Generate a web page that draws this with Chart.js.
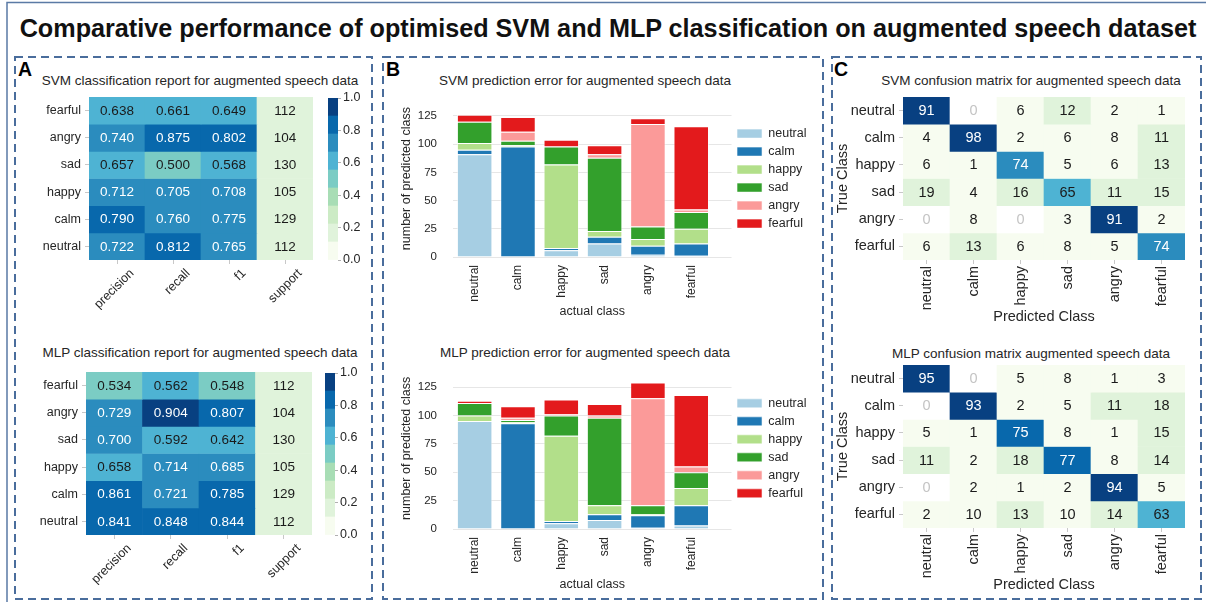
<!DOCTYPE html>
<html>
<head>
<meta charset="utf-8">
<script src="https://cdn.jsdelivr.net/npm/chart.js@4.4.1/dist/chart.umd.min.js"></script>
<style>
  html, body { margin: 0; padding: 0; background: #fff; }
  #figure { position: relative; width: 1206px; height: 602px; overflow: hidden;
            font-family: 'Liberation Sans', Arial, sans-serif; color: #262626; }
  #figure canvas { position: absolute; }
  .txt { position: absolute; white-space: nowrap; line-height: 1; }
  .main { left: 0; width: 1216px; top: 15.6px; text-align: center; font-weight: bold; font-size: 25.2px; color: #111; }
  .sub { width: 400px; text-align: center; font-size: 13.5px; }
  .letter { font-weight: bold; font-size: 19.5px; color: #000; top: 60px; }
  #frames { position: absolute; left: 0; top: 0; pointer-events: none; }
</style>
</head>
<body>
<div id="figure">
  <div class="txt main">Comparative performance of optimised SVM and MLP classification on augmented speech dataset</div>
  <div class="txt letter" style="left:18px">A</div>
  <div class="txt letter" style="left:386px">B</div>
  <div class="txt letter" style="left:834px">C</div>
  <div class="txt sub" style="left:0px;top:73.5px">SVM classification report for augmented speech data</div>
  <div class="txt sub" style="left:0px;top:345.5px">MLP classification report for augmented speech data</div>
  <div class="txt sub" style="left:385px;top:73.5px">SVM prediction error for augmented speech data</div>
  <div class="txt sub" style="left:385px;top:345.5px">MLP prediction error for augmented speech data</div>
  <div class="txt sub" style="left:831px;top:73.5px">SVM confusion matrix for augmented speech data</div>
  <div class="txt sub" style="left:831px;top:346.5px">MLP confusion matrix augmented speech data</div>
  <svg id="frames" width="1206" height="602">
    <rect x="7" y="2.5" width="1215" height="620" fill="none" stroke="#5a7aa5" stroke-width="1.5"/>
    <g fill="none" stroke="#4a6d9c" stroke-width="2" stroke-dasharray="8 5">
      <rect x="15" y="57" width="357" height="542"/>
      <rect x="383" y="57" width="440" height="542"/>
      <rect x="832" y="57" width="369" height="542"/>
    </g>
  </svg>
</div>
<script>
// class names, in the order the models use them
const classes = ['neutral', 'calm', 'happy', 'sad', 'angry', 'fearful'];

// classification report (rows top to bottom as drawn)
const metrics = ['precision', 'recall', 'f1', 'support'];
const reportRows = ['fearful', 'angry', 'sad', 'happy', 'calm', 'neutral'];
const svmPrecision = [0.638, 0.740, 0.657, 0.712, 0.790, 0.722];
const svmRecall = [0.661, 0.875, 0.500, 0.705, 0.760, 0.812];
const svmF1 = [0.649, 0.802, 0.568, 0.708, 0.775, 0.765];
const mlpPrecision = [0.534, 0.729, 0.700, 0.658, 0.861, 0.841];
const mlpRecall = [0.562, 0.904, 0.592, 0.714, 0.721, 0.848];
const mlpF1 = [0.548, 0.807, 0.642, 0.685, 0.785, 0.844];
const support = [112, 104, 130, 105, 129, 112];

// confusion matrices: rows = true class, columns = predicted class
const svmConfusion = [
    [91, 0, 6, 12, 2, 1],
    [4, 98, 2, 6, 8, 11],
    [6, 1, 74, 5, 6, 13],
    [19, 4, 16, 65, 11, 15],
    [0, 8, 0, 3, 91, 2],
    [6, 13, 6, 8, 5, 74]
];
const mlpConfusion = [
    [95, 0, 5, 8, 1, 3],
    [0, 93, 2, 5, 11, 18],
    [5, 1, 75, 8, 1, 15],
    [11, 2, 18, 77, 8, 14],
    [0, 2, 1, 2, 94, 5],
    [2, 10, 13, 10, 14, 63]
];

// axis ticks
const countTicks = [0, 25, 50, 75, 100, 125];
const svmCountMax = 139;
const mlpCountMax = 142;
const colourbarTicks = [0, 0.2, 0.4, 0.6, 0.8, 1.0];

const gnbu = ['#f7fcf0', '#e0f3db', '#ccebc5', '#a8ddb5', '#7bccc4', '#4eb3d3', '#2b8cbe', '#0868ac', '#084081'];
const paired = ['#a6cee3', '#1f78b4', '#b2df8a', '#33a02c', '#fb9a99', '#e31a1c'];

Chart.defaults.font.family = "'Liberation Sans', Arial, sans-serif";
Chart.defaults.color = '#262626';
Chart.defaults.animation = false;
Chart.defaults.responsive = false;
Chart.defaults.devicePixelRatio = 1;
Chart.defaults.plugins.legend.display = false;
Chart.defaults.plugins.tooltip.enabled = false;

function level(share) {
    return Math.min(gnbu.length - 1, Math.floor(share * gnbu.length));
}

function cellColour(share) {
    if (share === undefined) return gnbu[0];
    if (share === 0) return '#ffffff';
    return gnbu[level(share)];
}

function textColour(share) {
    if (share === 0) return '#c4c4c4';
    return level(share) >= 6 ? '#ffffff' : '#1a1a1a';
}

// fixed axis sizes, no extra room for overhanging labels
function fixWidth(w) {
    return s => { s.width = w; s.paddingTop = 0; s.paddingBottom = 0; };
}
function fixHeight(h) {
    return s => { s.height = h; s.paddingLeft = 0; s.paddingRight = 0; };
}

// writes each cell's value in the middle of its bar
const cellText = {
    id: 'cellText',
    afterDatasetsDraw(chart, args, opts) {
        const ctx = chart.ctx;
        ctx.save();
        ctx.font = opts.size + "px 'Liberation Sans', Arial, sans-serif";
        ctx.textAlign = 'center';
        ctx.textBaseline = 'middle';
        chart.data.datasets.forEach((ds, di) => {
            chart.getDatasetMeta(di).data.forEach((bar, j) => {
                ctx.fillStyle = textColour(ds.shades[j]);
                ctx.fillText(ds.texts[j], bar.x, (bar.y + bar.base) / 2 + 0.5);
            });
        });
        ctx.restore();
    }
};

function addCanvas(left, top, w, h) {
    let c = document.createElement('canvas');
    c.width = w;
    c.height = h;
    c.style.left = left + 'px';
    c.style.top = top + 'px';
    c.style.width = w + 'px';
    c.style.height = h + 'px';
    document.getElementById('figure').insertBefore(c, document.getElementById('frames'));
    return c;
}

function heatmap(canvas, cfg) {
    return new Chart(canvas, {
        type: 'bar',
        data: {
            labels: cfg.cols,
            datasets: cfg.rows.map((row, i) => ({
                label: row,
                data: cfg.cols.map(() => [i, i + 1]),
                shades: cfg.shades[i],
                texts: cfg.texts[i],
                backgroundColor: c => cellColour(c.dataIndex === undefined ? undefined : c.dataset.shades[c.dataIndex]),
                borderWidth: 0,
                barPercentage: 1,
                categoryPercentage: 1
            }))
        },
        options: {
            layout: { padding: cfg.padding },
            plugins: { cellText: { size: cfg.cellFont } },
            scales: {
                x: {
                    stacked: true,
                    grid: { drawOnChartArea: false, offset: false, tickLength: 4, color: '#c8c8c8' },
                    border: { display: false },
                    ticks: { autoSkip: false, minRotation: cfg.rotation, maxRotation: cfg.rotation,
                             labelOffset: cfg.labelOffset, padding: 2, font: { size: cfg.tickFont } },
                    title: { display: !!cfg.xTitle, text: cfg.xTitle, font: { size: 14.5 }, padding: { top: 4, bottom: 4 } },
                    afterFit: fixHeight(cfg.xHeight)
                },
                y: {
                    stacked: false,
                    bounds: 'data',
                    min: 0,
                    max: cfg.rows.length,
                    reverse: true,
                    afterBuildTicks: s => { s.ticks = cfg.rows.map((r, i) => ({ value: i + 0.5 })); },
                    grid: { drawOnChartArea: false, tickLength: 4, color: '#c8c8c8' },
                    border: { display: false },
                    ticks: { autoSkip: false, padding: 4, font: { size: cfg.tickFont },
                             callback: v => cfg.rows[Math.floor(v)] },
                    title: { display: !!cfg.yTitle, text: cfg.yTitle, font: { size: 14.5 }, padding: { top: 0, bottom: 0 } },
                    afterFit: fixWidth(cfg.yWidth)
                }
            }
        },
        plugins: [cellText]
    });
}

function colourbar(canvas) {
    return new Chart(canvas, {
        type: 'bar',
        data: {
            labels: [''],
            datasets: gnbu.map((colour, k) => ({
                data: [[k / gnbu.length, (k + 1) / gnbu.length]],
                backgroundColor: colour,
                borderWidth: 0,
                barPercentage: 1,
                categoryPercentage: 1
            }))
        },
        options: {
            layout: { padding: { left: 6, top: 8, right: 0, bottom: 10 } },
            scales: {
                x: { stacked: true, display: false },
                y: {
                    stacked: false,
                    bounds: 'data',
                    position: 'right',
                    min: 0,
                    max: 1,
                    afterBuildTicks: s => { s.ticks = colourbarTicks.map(v => ({ value: v })); },
                    grid: { drawOnChartArea: false, tickLength: 3, color: '#b0b0b0' },
                    border: { display: false },
                    ticks: { padding: 2, font: { size: 12.5 }, callback: v => v.toFixed(1) },
                    afterFit: fixWidth(32)
                }
            }
        }
    });
}

function reportCells(precision, recall, f1) {
    let total = support.reduce((a, b) => a + b, 0);
    return {
        shades: reportRows.map((r, i) => [precision[i], recall[i], f1[i], support[i] / total]),
        texts: reportRows.map((r, i) => [precision[i].toFixed(3), recall[i].toFixed(3), f1[i].toFixed(3), String(support[i])])
    };
}

function confusionCells(matrix) {
    let top = Math.max(...matrix.map(r => Math.max(...r)));
    return {
        shades: matrix.map(r => r.map(v => v / top)),
        texts: matrix.map(r => r.map(v => String(v)))
    };
}

// stacked counts of predicted class for every actual class
function countChart(canvas, matrix, max, padding, xHeight) {
    return new Chart(canvas, {
        type: 'bar',
        data: {
            datasets: classes.map((name, k) => ({
                label: name,
                data: matrix[k].map((v, j) => ({ x: j, y: v })),
                backgroundColor: paired[k],
                borderColor: 'rgba(255, 255, 255, 0.55)',
                borderWidth: 1,
                barPercentage: 0.82,
                categoryPercentage: 1
            }))
        },
        options: {
            layout: { padding: padding },
            plugins: {
                legend: {
                    display: true,
                    position: 'right',
                    fullSize: false,
                    labels: { boxWidth: 25, boxHeight: 9, padding: 5.5, color: '#262626', font: { size: 12.5 } }
                }
            },
            scales: {
                x: {
                    type: 'linear',
                    stacked: true,
                    offset: false,
                    bounds: 'data',
                    min: -0.5,
                    max: 5.93,
                    afterBuildTicks: s => { s.ticks = classes.map((c, j) => ({ value: j })); },
                    grid: { display: false, drawTicks: false, offset: false },
                    border: { display: false },
                    ticks: { autoSkip: false, minRotation: 90, maxRotation: 90, padding: 8, font: { size: 12 },
                             callback: v => classes[v] },
                    title: { display: true, text: 'actual class', font: { size: 12.5 }, padding: { top: 4, bottom: 4 } },
                    afterFit: fixHeight(xHeight)
                },
                y: {
                    stacked: true,
                    bounds: 'data',
                    min: 0,
                    max: max,
                    afterBuildTicks: s => { s.ticks = countTicks.map(v => ({ value: v })); },
                    grid: { color: '#e6e6e6', drawTicks: false },
                    border: { display: false },
                    ticks: { padding: 16, font: { size: 11.5 } },
                    title: { display: true, text: 'number of predicted class', font: { size: 12.5 }, padding: { top: 4, bottom: 4 } },
                    afterFit: fixWidth(58)
                }
            }
        }
    });
}

// panel A
let svmReport = reportCells(svmPrecision, svmRecall, svmF1);
heatmap(addCanvas(15, 90, 355, 220), {
    cols: metrics, rows: reportRows, shades: svmReport.shades, texts: svmReport.texts,
    cellFont: 13.5, tickFont: 12.5, rotation: 45, labelOffset: 15,
    padding: { left: 0, top: 7, right: 57, bottom: 0 }, yWidth: 74, xHeight: 50
});
colourbar(addCanvas(322, 90, 48, 180));

let mlpReport = reportCells(mlpPrecision, mlpRecall, mlpF1);
heatmap(addCanvas(15, 365, 355, 220), {
    cols: metrics, rows: reportRows, shades: mlpReport.shades, texts: mlpReport.texts,
    cellFont: 13.5, tickFont: 12.5, rotation: 45, labelOffset: 15,
    padding: { left: 0, top: 7, right: 58, bottom: 0 }, yWidth: 71, xHeight: 50
});
colourbar(addCanvas(319, 365, 48, 180));

// panel B
countChart(addCanvas(385, 90, 440, 240), svmConfusion, svmCountMax,
    { left: 10, top: 10.2, right: 8.5, bottom: 6.5 }, 66.5);
countChart(addCanvas(385, 360, 440, 240), mlpConfusion, mlpCountMax,
    { left: 10, top: 7.7, right: 8.5, bottom: 3.5 }, 67.5);

// panel C
let svmCells = confusionCells(svmConfusion);
heatmap(addCanvas(834, 90, 364, 240), {
    cols: classes, rows: classes, shades: svmCells.shades, texts: svmCells.texts,
    cellFont: 14.5, tickFont: 14.5, rotation: 90, labelOffset: 0,
    xTitle: 'Predicted Class', yTitle: 'True Class',
    padding: { left: 0, top: 7, right: 13, bottom: 0 }, yWidth: 69, xHeight: 70
});
let mlpCells = confusionCells(mlpConfusion);
heatmap(addCanvas(834, 358, 364, 240), {
    cols: classes, rows: classes, shades: mlpCells.shades, texts: mlpCells.texts,
    cellFont: 14.5, tickFont: 14.5, rotation: 90, labelOffset: 0,
    xTitle: 'Predicted Class', yTitle: 'True Class',
    padding: { left: 0, top: 7, right: 13, bottom: 0 }, yWidth: 69, xHeight: 70
});
</script>
</body>
</html>
